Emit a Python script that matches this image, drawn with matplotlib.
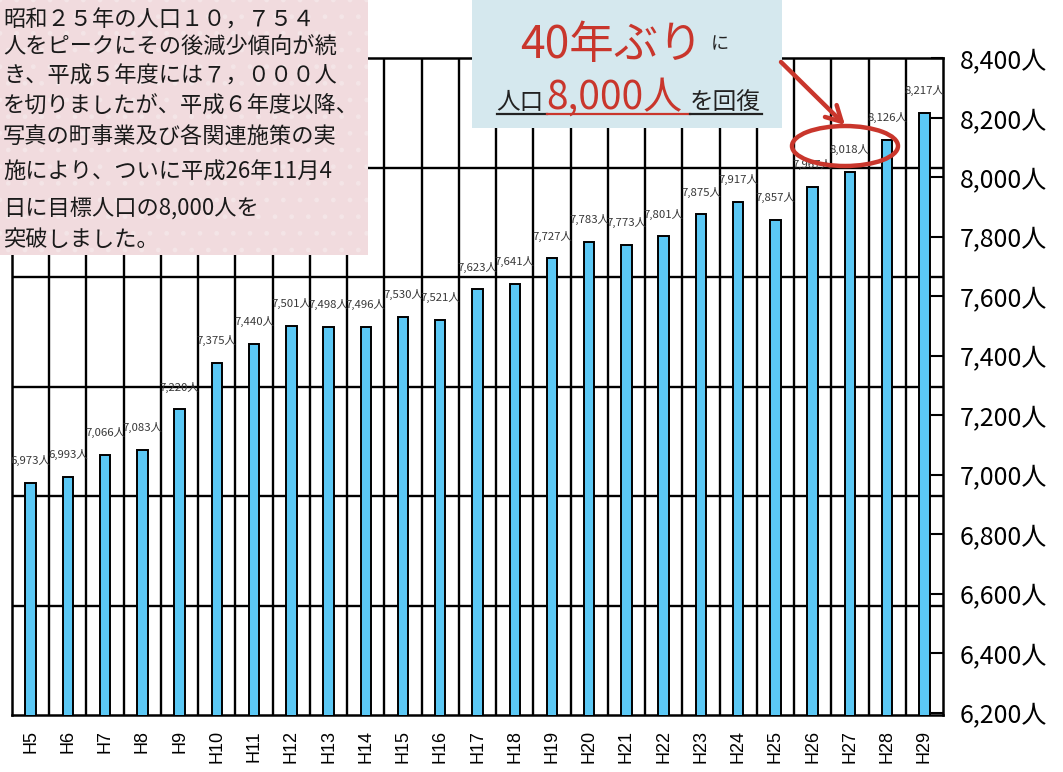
import numpy as np
import matplotlib
matplotlib.use('Agg')
import matplotlib.pyplot as plt
from matplotlib.patches import Rectangle, Ellipse

plt.rcParams['font.family'] = ['Noto Sans CJK JP', 'DejaVu Sans']

# ── データ ──
years = ['H5', 'H6', 'H7', 'H8', 'H9', 'H10', 'H11', 'H12', 'H13', 'H14',
         'H15', 'H16', 'H17', 'H18', 'H19', 'H20', 'H21', 'H22', 'H23', 'H24',
         'H25', 'H26', 'H27', 'H28', 'H29']
population = [6973, 6993, 7066, 7083, 7220, 7375, 7440, 7501, 7498, 7496,
              7530, 7521, 7623, 7641, 7727, 7783, 7773, 7801, 7875, 7917,
              7857, 7967, 8018, 8126, 8217]
yticks = list(range(6200, 8401, 200))
ytick_labels = [f'{v:,}人' for v in yticks]

note_lines = ['昭和２５年の人口１０，７５４',
              '人をピークにその後減少傾向が続',
              'き、平成５年度には７，０００人',
              'を切りましたが、平成６年度以降、',
              '写真の町事業及び各関連施策の実',
              '施により、ついに平成26年11月4',
              '日に目標人口の8,000人を',
              '突破しました。']
note_y = [20, 47, 76, 106, 137, 172, 208, 240]

RED = '#c9362c'
BAR = '#5bc8f5'

W, H = 1063, 772
fig = plt.figure(figsize=(W / 100, H / 100), dpi=100)


def fx(x):
    return x / W


def fy(y):
    return 1 - y / H


ax = fig.add_axes([fx(12), fy(715), (943 - 12) / W, (715 - 58) / H])
ymin, ymax = 6192, 8401
x = np.arange(len(years))
ax.bar(x, population, width=0.28, color=BAR, edgecolor='black', lw=1.4, zorder=3)

for gy in np.linspace(ymin, ymax, 7)[1:-1]:
    ax.axhline(gy, color='black', lw=1.7, zorder=2)
for gx in np.arange(0.5, len(years) - 1, 1):
    ax.axvline(gx, color='black', lw=1.7, zorder=2)

for i, v in enumerate(population):
    ax.annotate(f'{v:,}人', (i, v), xytext=(0, 16), textcoords='offset points',
                ha='center', va='center', fontsize=8.2, color='#383838', zorder=4)

ax.set_xlim(-0.5, len(years) - 0.5)
ax.set_ylim(ymin, ymax)
ax.set_xticks(x)
ax.set_xticklabels(years, rotation=90, fontsize=13,
                   family=['Liberation Sans', 'DejaVu Sans'])
ax.tick_params(axis='x', length=0, pad=11)
ax.yaxis.tick_right()
ax.set_yticks(yticks)
ax.set_yticklabels(ytick_labels, fontsize=18)
ax.tick_params(axis='y', direction='in', length=9, width=1.5, pad=12, right=True)
for s in ax.spines.values():
    s.set_linewidth(1.8)

# ── 説明ボックス (左上) ──
fig.patches.append(Rectangle((0, fy(255)), fx(368), 255 / H, transform=fig.transFigure,
                             facecolor='#f1dbde', edgecolor='none', zorder=5))
fig.patches.append(Rectangle((0, fy(255)), fx(368), 255 / H, transform=fig.transFigure,
                             facecolor='none', edgecolor='#f4e5e7', hatch='.', lw=0, zorder=5))
for line, yy in zip(note_lines, note_y):
    fig.text(fx(3), fy(yy), line, fontsize=16, color='#1a1a1a',
             ha='left', va='center', zorder=6)

# ── 見出しボックス ──
fig.patches.append(Rectangle((fx(472), fy(128)), (782 - 472) / W, 128 / H,
                             transform=fig.transFigure, facecolor='#d5e8ee',
                             edgecolor='none', zorder=5))
fig.text(fx(520), fy(58), '40年ぶり', fontsize=32, color=RED, ha='left', va='baseline', zorder=6)
fig.text(fx(711), fy(49), 'に', fontsize=13, color='#222', ha='left', va='baseline', zorder=6)
fig.text(fx(496), fy(109), '人口', fontsize=17, color='#222', ha='left', va='baseline', zorder=6)
fig.text(fx(546), fy(109), '8,000人', fontsize=28, color=RED, ha='left', va='baseline', zorder=6)
fig.text(fx(690), fy(109), 'を回復', fontsize=17, color='#222', ha='left', va='baseline', zorder=6)
fig.add_artist(plt.Line2D([fx(497), fx(547)], [fy(114), fy(114)], color='#222', lw=1.6, zorder=6))
fig.add_artist(plt.Line2D([fx(547), fx(690)], [fy(114), fy(114)], color=RED, lw=1.6, zorder=6))
fig.add_artist(plt.Line2D([fx(690), fx(762)], [fy(114), fy(114)], color='#222', lw=1.6, zorder=6))

# ── 強調 (楕円と矢印) ──
fig.patches.append(Ellipse((fx(845), fy(146)), 106 / W, 40 / H, transform=fig.transFigure,
                           facecolor='none', edgecolor=RED, lw=3.2, zorder=7))
fig.add_artist(plt.matplotlib.text.Annotation(
    '', xy=(fx(845), fy(125)), xytext=(fx(781), fy(62)),
    xycoords='figure fraction', textcoords='figure fraction',
    arrowprops=dict(arrowstyle='->,head_length=1.1,head_width=0.6', color=RED, lw=3.2,
                    shrinkA=0, shrinkB=0), zorder=7))

fig.savefig('out.png', dpi=100)
